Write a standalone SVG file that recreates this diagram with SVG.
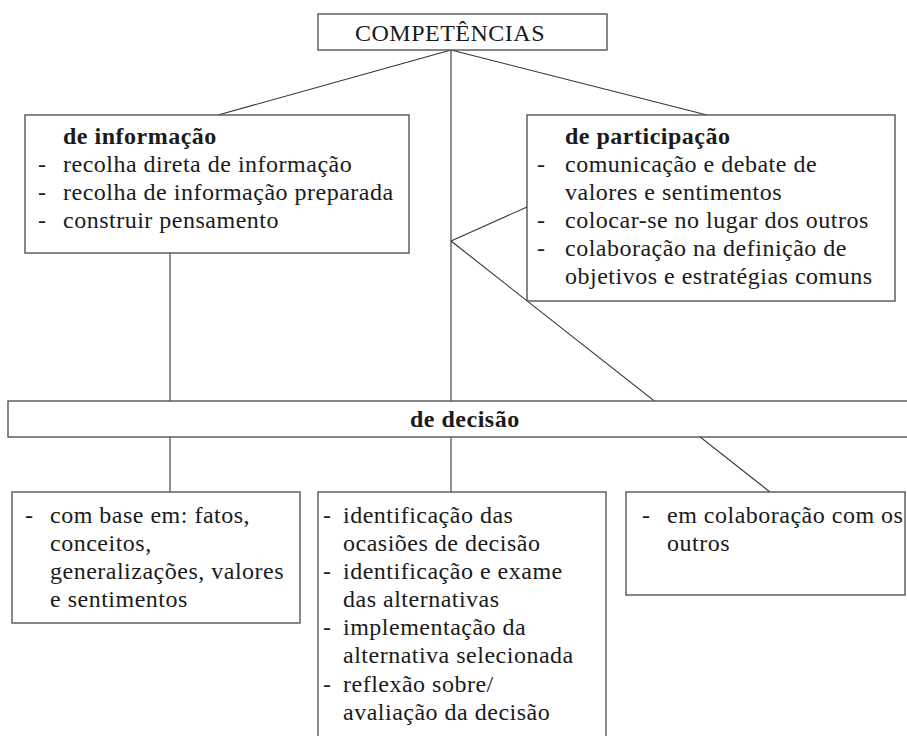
<svg xmlns="http://www.w3.org/2000/svg" width="907" height="736" viewBox="0 0 907 736">
<style>
  .box { fill: #ffffff; stroke: #555555; stroke-width: 1.4; }
  .conn line { stroke: #333333; stroke-width: 1.1; }
  text { font-family: "Liberation Serif", "Times New Roman", serif; font-size: 24px; fill: #1a1a1a; letter-spacing: 0.5px; }
  .b { font-weight: bold; }
</style>
<rect width="907" height="736" fill="#ffffff"/>
<g id="connectors" class="conn">
  <line x1="451" y1="50" x2="218" y2="115"/>
  <line x1="451" y1="50" x2="707" y2="115"/>
  <line x1="451" y1="50" x2="451" y2="492"/>
  <line x1="170" y1="253" x2="170" y2="492"/>
  <line x1="451" y1="241" x2="527" y2="207"/>
  <line x1="451" y1="241" x2="770" y2="492"/>
</g>
<g id="competencias">
  <rect class="box" x="318" y="14" width="289" height="36"/>
  <text x="355" y="41">COMPETÊNCIAS</text>
</g>
<g id="informacao">
  <rect class="box" x="25" y="115" width="384" height="138"/>
  <text class="b" x="63" y="144">de informação</text>
  <text x="38" y="172">-</text><text x="63" y="172">recolha direta de informação</text>
  <text x="38" y="200">-</text><text x="63" y="200">recolha de informação preparada</text>
  <text x="38" y="228">-</text><text x="63" y="228">construir pensamento</text>
</g>
<g id="participacao">
  <rect class="box" x="527" y="115" width="368" height="186"/>
  <text class="b" x="565" y="144">de participação</text>
  <text x="537" y="172">-</text><text x="565" y="172">comunicação e debate de</text>
  <text x="565" y="200">valores e sentimentos</text>
  <text x="537" y="228">-</text><text x="565" y="228">colocar-se no lugar dos outros</text>
  <text x="537" y="256">-</text><text x="565" y="256">colaboração na definição de</text>
  <text x="565" y="284">objetivos e estratégias comuns</text>
</g>
<g id="decisao">
  <rect class="box" x="8" y="401" width="910" height="36"/>
  <text class="b" x="410" y="427">de decisão</text>
</g>
<g id="base">
  <rect class="box" x="12" y="492" width="288" height="131"/>
  <text x="25" y="523">-</text><text x="50" y="523">com base em: fatos,</text>
  <text x="50" y="551">conceitos,</text>
  <text x="50" y="579">generalizações, valores</text>
  <text x="50" y="607">e sentimentos</text>
</g>
<g id="etapas">
  <rect class="box" x="318" y="492" width="288" height="260"/>
  <text x="323" y="523">-</text><text x="343" y="523">identificação das</text>
  <text x="343" y="551">ocasiões de decisão</text>
  <text x="323" y="579">-</text><text x="343" y="579">identificação e exame</text>
  <text x="343" y="607">das alternativas</text>
  <text x="323" y="635">-</text><text x="343" y="635">implementação da</text>
  <text x="343" y="663">alternativa selecionada</text>
  <text x="323" y="692">-</text><text x="343" y="692">reflexão sobre/</text>
  <text x="343" y="720">avaliação da decisão</text>
</g>
<g id="colaboracao">
  <rect class="box" x="626" y="492" width="279" height="103"/>
  <text x="642" y="523">-</text><text x="667" y="523">em colaboração com os</text>
  <text x="667" y="551">outros</text>
</g>
</svg>
